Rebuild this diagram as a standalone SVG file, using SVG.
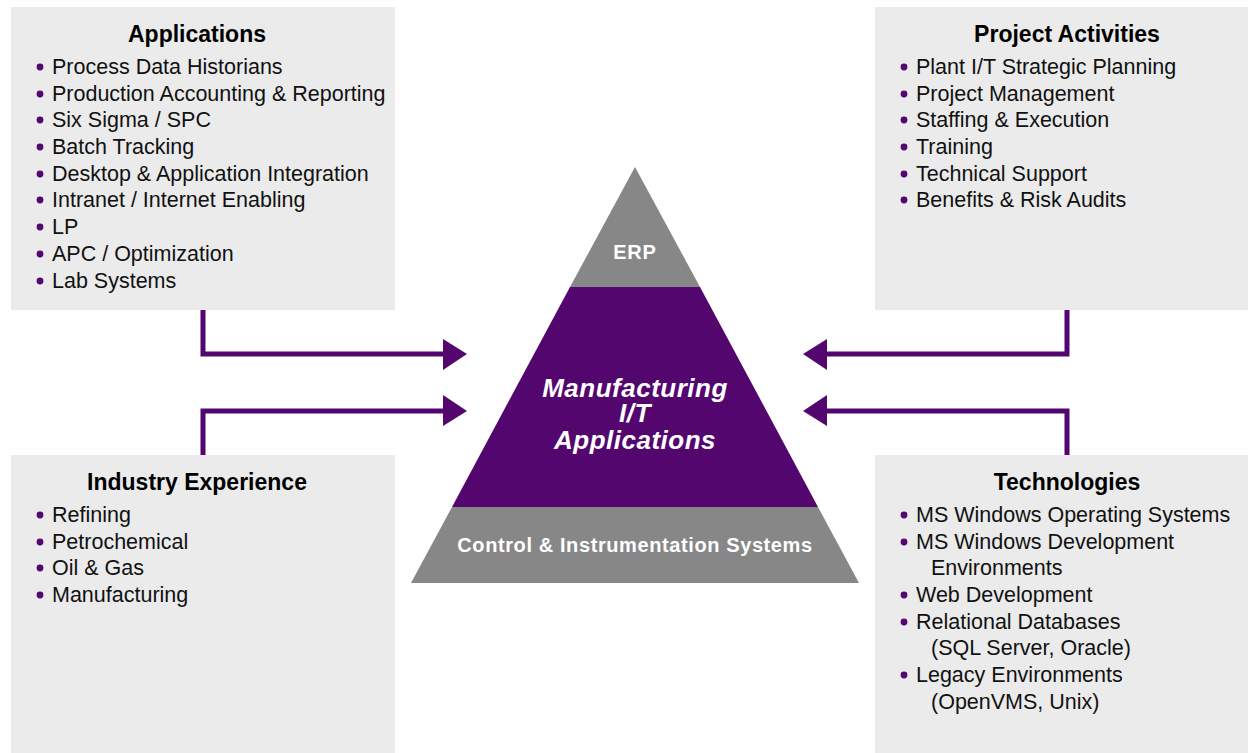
<svg xmlns="http://www.w3.org/2000/svg" width="1248" height="753" viewBox="0 0 1248 753">
<defs>
<style>
.box{fill:#ebebeb}
.title{font-family:"Liberation Sans",Arial,sans-serif;font-weight:bold;font-size:23px;fill:#000;text-anchor:middle}
.item{font-family:"Liberation Sans",Arial,sans-serif;font-size:21.5px;fill:#111}
.dot{fill:#54066f}
.conn{fill:none;stroke:#54066f;stroke-width:5}
.head{fill:#54066f}
.gray{fill:#878787}
.purple{fill:#54066f}
.wtxt{font-family:"Liberation Sans",Arial,sans-serif;font-weight:bold;fill:#fff;text-anchor:middle}
</style>
</defs>
<rect width="1248" height="753" fill="#fff"/>

<g id="applications">
<rect class="box" x="11" y="7" width="384" height="303"/>
<text class="title" x="197" y="42">Applications</text>
<g class="dot">
<circle cx="40" cy="67" r="3.4"/><circle cx="40" cy="94" r="3.4"/><circle cx="40" cy="120" r="3.4"/><circle cx="40" cy="147" r="3.4"/><circle cx="40" cy="174" r="3.4"/><circle cx="40" cy="200" r="3.4"/><circle cx="40" cy="227" r="3.4"/><circle cx="40" cy="254" r="3.4"/><circle cx="40" cy="281" r="3.4"/>
</g>
<text class="item" x="52" y="74">Process Data Historians</text>
<text class="item" x="52" y="101">Production Accounting &amp; Reporting</text>
<text class="item" x="52" y="127">Six Sigma / SPC</text>
<text class="item" x="52" y="154">Batch Tracking</text>
<text class="item" x="52" y="181">Desktop &amp; Application Integration</text>
<text class="item" x="52" y="207">Intranet / Internet Enabling</text>
<text class="item" x="52" y="234">LP</text>
<text class="item" x="52" y="261">APC / Optimization</text>
<text class="item" x="52" y="288">Lab Systems</text>
</g>

<g id="project-activities">
<rect class="box" x="875" y="7" width="373" height="303"/>
<text class="title" x="1067" y="42">Project Activities</text>
<g class="dot">
<circle cx="904" cy="67" r="3.4"/><circle cx="904" cy="94" r="3.4"/><circle cx="904" cy="120" r="3.4"/><circle cx="904" cy="147" r="3.4"/><circle cx="904" cy="174" r="3.4"/><circle cx="904" cy="200" r="3.4"/>
</g>
<text class="item" x="916" y="74">Plant I/T Strategic Planning</text>
<text class="item" x="916" y="101">Project Management</text>
<text class="item" x="916" y="127">Staffing &amp; Execution</text>
<text class="item" x="916" y="154">Training</text>
<text class="item" x="916" y="181">Technical Support</text>
<text class="item" x="916" y="207">Benefits &amp; Risk Audits</text>
</g>

<g id="industry-experience">
<rect class="box" x="11" y="455" width="384" height="298"/>
<text class="title" x="197" y="490">Industry Experience</text>
<g class="dot">
<circle cx="40" cy="515" r="3.4"/><circle cx="40" cy="542" r="3.4"/><circle cx="40" cy="568" r="3.4"/><circle cx="40" cy="595" r="3.4"/>
</g>
<text class="item" x="52" y="522">Refining</text>
<text class="item" x="52" y="549">Petrochemical</text>
<text class="item" x="52" y="575">Oil &amp; Gas</text>
<text class="item" x="52" y="602">Manufacturing</text>
</g>

<g id="technologies">
<rect class="box" x="875" y="455" width="373" height="298"/>
<text class="title" x="1067" y="490">Technologies</text>
<g class="dot">
<circle cx="904" cy="515" r="3.4"/><circle cx="904" cy="542" r="3.4"/><circle cx="904" cy="595" r="3.4"/><circle cx="904" cy="622" r="3.4"/><circle cx="904" cy="675" r="3.4"/>
</g>
<text class="item" x="916" y="522">MS Windows Operating Systems</text>
<text class="item" x="916" y="549">MS Windows Development</text>
<text class="item" x="931" y="575">Environments</text>
<text class="item" x="916" y="602">Web Development</text>
<text class="item" x="916" y="629">Relational Databases</text>
<text class="item" x="931" y="655">(SQL Server, Oracle)</text>
<text class="item" x="916" y="682">Legacy Environments</text>
<text class="item" x="931" y="709">(OpenVMS, Unix)</text>
</g>

<g id="pyramid">
<polygon class="gray" points="635,167 570,287 700,287"/>
<polygon class="purple" points="570,287 700,287 818,507 452,507"/>
<polygon class="gray" points="452,507 818,507 859,583 411,583"/>
<text class="wtxt" x="635" y="259" font-size="20" letter-spacing="0.8">ERP</text>
<text class="wtxt" font-size="26" font-style="italic" letter-spacing="0.5"><tspan x="635" y="397">Manufacturing</tspan><tspan x="635" y="422">I/T</tspan><tspan x="635" y="449">Applications</tspan></text>
<text class="wtxt" x="635" y="552" font-size="20" letter-spacing="0.6">Control &amp; Instrumentation Systems</text>
</g>

<g id="connectors">
<polyline class="conn" points="203,310 203,354 445,354"/>
<polygon class="head" points="443,339 467,354 443,370"/>
<polyline class="conn" points="203,455 203,411 445,411"/>
<polygon class="head" points="443,395 467,411 443,426"/>
<polyline class="conn" points="1067,310 1067,354 825,354"/>
<polygon class="head" points="827,339 803,354 827,370"/>
<polyline class="conn" points="1067,455 1067,411 825,411"/>
<polygon class="head" points="827,395 803,411 827,426"/>
</g>
</svg>
